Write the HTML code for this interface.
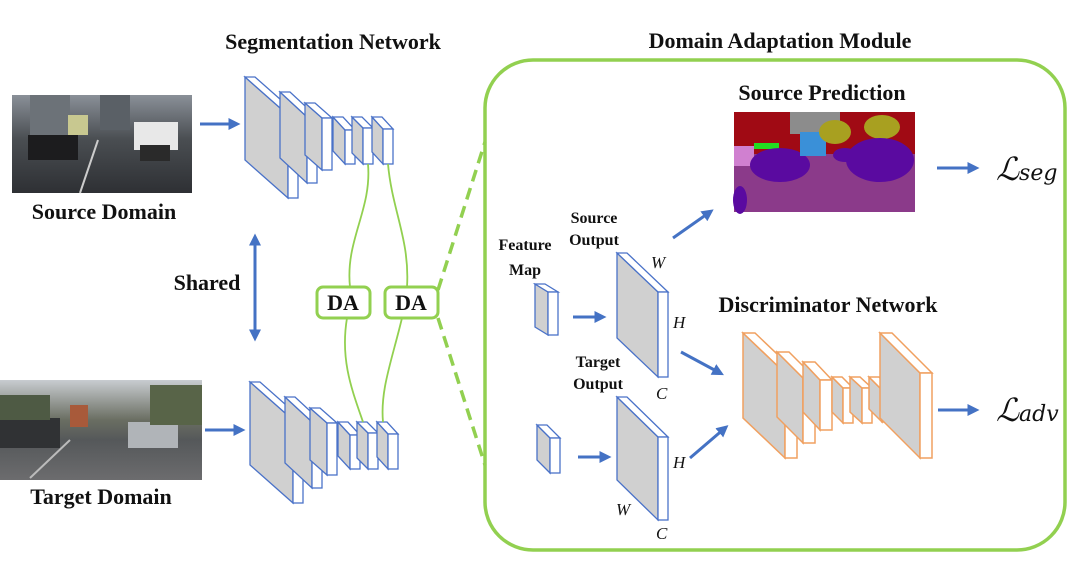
<!DOCTYPE html>
<html><head><meta charset="utf-8"><style>
html,body{margin:0;padding:0;background:#fff;}
svg{display:block;}
text{font-family:"Liberation Serif",serif;}
.b{font-weight:bold;font-size:22px;fill:#111;}
.s{font-weight:bold;font-size:16px;fill:#111;}
.i{font-style:italic;font-size:17px;fill:#111;}
.sb polygon{fill:#d0d0d0;stroke:#4a72c8;stroke-width:1.3;}
.sb rect,.sb polygon.t{fill:#fff;stroke:#4a72c8;stroke-width:1.3;}
.ob polygon{fill:#d0d0d0;stroke:#f0a060;stroke-width:1.5;}
.ob rect,.ob polygon.t{fill:#fff;stroke:#f0a060;stroke-width:1.5;}
.ar{stroke:#4472c4;stroke-width:3;fill:none;marker-end:url(#ah);}
</style></head><body>
<svg width="1080" height="585" viewBox="0 0 1080 585" xmlns="http://www.w3.org/2000/svg">
<defs>
<marker id="ah" markerWidth="4" markerHeight="4" refX="2.5" refY="2" orient="auto" markerUnits="strokeWidth"><path d="M0,0 L4,2 L0,4 z" fill="#4472c4"/></marker>
<marker id="ahs" markerWidth="4" markerHeight="4" refX="2.5" refY="2" orient="auto-start-reverse" markerUnits="strokeWidth"><path d="M0,0 L4,2 L0,4 z" fill="#4472c4"/></marker>
<linearGradient id="ph1" x1="0" y1="0" x2="0" y2="1"><stop offset="0" stop-color="#8a9098"/><stop offset="0.45" stop-color="#4a4e52"/><stop offset="1" stop-color="#2e3034"/></linearGradient>
<linearGradient id="ph2" x1="0" y1="0" x2="0" y2="1"><stop offset="0" stop-color="#c8ccd0"/><stop offset="0.4" stop-color="#6a6e62"/><stop offset="0.6" stop-color="#55585a"/><stop offset="1" stop-color="#6c6c6e"/></linearGradient>
<g id="segnet" class="sb">
<polygon points="245,77 288,115 288,198 245,160"/><polygon class="t" points="245,77 255,77 298,115 288,115"/><rect x="288" y="115" width="10" height="83"/>
<polygon points="280,92 307,117 307,183 280,158"/><polygon class="t" points="280,92 290,92 317,117 307,117"/><rect x="307" y="117" width="10" height="66"/>
<polygon points="305,103 322,118 322,170 305,155"/><polygon class="t" points="305,103 315,103 332,118 322,118"/><rect x="322" y="118" width="10" height="52"/>
<polygon points="333,117 345,130 345,164 333,151"/><polygon class="t" points="333,117 343,117 355,130 345,130"/><rect x="345" y="130" width="10" height="34"/>
<polygon points="352,117 363,128 363,164 352,153"/><polygon class="t" points="352,117 362,117 373,128 363,128"/><rect x="363" y="128" width="10" height="36"/>
<polygon points="372,117 383,129 383,164 372,152"/><polygon class="t" points="372,117 382,117 393,129 383,129"/><rect x="383" y="129" width="10" height="35"/>
</g>
</defs>

<text class="b" x="333" y="49" text-anchor="middle">Segmentation Network</text>
<text class="b" x="780" y="48" text-anchor="middle">Domain Adaptation Module</text>

<rect x="12" y="95" width="180" height="98" fill="url(#ph1)"/>
<rect x="30" y="95" width="40" height="40" fill="#6c7278"/>
<rect x="100" y="95" width="30" height="35" fill="#5a6066"/>
<rect x="28" y="135" width="50" height="25" fill="#1c1c1e"/>
<rect x="134" y="122" width="44" height="28" fill="#e8e8e8"/>
<rect x="140" y="145" width="30" height="16" fill="#2a2a2a"/>
<rect x="68" y="115" width="20" height="20" fill="#c8c890"/>
<line x1="80" y1="193" x2="98" y2="140" stroke="#ccc" stroke-width="2"/>
<rect x="0" y="380" width="202" height="100" fill="url(#ph2)"/>
<rect x="70" y="405" width="18" height="22" fill="#a85a3a"/>
<rect x="0" y="418" width="60" height="30" fill="#303234"/>
<rect x="128" y="422" width="50" height="26" fill="#b0b4b8"/>
<rect x="0" y="395" width="50" height="25" fill="#4e5a44"/>
<rect x="150" y="385" width="52" height="40" fill="#586448"/>
<line x1="30" y1="478" x2="70" y2="440" stroke="#bbb" stroke-width="2"/>

<text class="b" x="104" y="219" text-anchor="middle">Source Domain</text>
<text class="b" x="101" y="504" text-anchor="middle">Target Domain</text>
<text class="b" x="207" y="290" text-anchor="middle">Shared</text>

<line class="ar" x1="200" y1="124" x2="236" y2="124"/>
<line class="ar" x1="205" y1="430" x2="241" y2="430"/>
<line x1="255" y1="238" x2="255" y2="337" stroke="#4472c4" stroke-width="3" marker-end="url(#ah)" marker-start="url(#ahs)"/>

<use href="#segnet"/>
<use href="#segnet" transform="translate(5,305)"/>

<g stroke="#92d050" stroke-width="1.8" fill="none">
<path d="M368,164 C372,210 345,240 350,287"/>
<path d="M388,164 C392,210 410,240 407,287"/>
<path d="M347,318 C340,360 352,390 363,422"/>
<path d="M402,318 C392,360 380,390 383,422"/>
</g>
<g stroke="#92d050" stroke-width="3" fill="#fff">
<rect x="317" y="287" width="53" height="31" rx="6"/>
<rect x="385" y="287" width="53" height="31" rx="6"/>
</g>
<text class="b" x="343" y="310" text-anchor="middle">DA</text>
<text class="b" x="411" y="310" text-anchor="middle">DA</text>
<g stroke="#92d050" stroke-width="3.5" stroke-dasharray="12,7" fill="none">
<line x1="438" y1="290" x2="485" y2="142"/>
<line x1="438" y1="318" x2="485" y2="465"/>
</g>

<rect x="485" y="60" width="580" height="490" rx="48" fill="none" stroke="#92d050" stroke-width="3.5"/>

<text class="b" x="822" y="100" text-anchor="middle">Source Prediction</text>
<rect x="734" y="112" width="181" height="100" fill="#8b3a8a"/>
<rect x="734" y="112" width="181" height="42" fill="#a00a14"/>
<rect x="790" y="112" width="50" height="22" fill="#8c8c8c"/>
<rect x="734" y="146" width="20" height="20" fill="#d080d0"/>
<rect x="754" y="143" width="25" height="6" fill="#22dd22"/>
<ellipse cx="780" cy="165" rx="30" ry="17" fill="#5a0aa0"/>
<rect x="800" y="132" width="26" height="24" fill="#3a90d8"/>
<ellipse cx="835" cy="132" rx="16" ry="12" fill="#a8a020"/>
<ellipse cx="882" cy="127" rx="18" ry="12" fill="#a8a020"/>
<ellipse cx="880" cy="160" rx="34" ry="22" fill="#5a0aa0"/>
<ellipse cx="845" cy="155" rx="12" ry="7" fill="#5a0aa0"/>
<ellipse cx="740" cy="200" rx="7" ry="14" fill="#5a0aa0"/>
<line class="ar" x1="937" y1="168" x2="975" y2="168"/>
<text x="996" y="180" font-size="32" font-style="italic" fill="#111" style="font-family:'DejaVu Serif','Liberation Serif',serif">ℒ<tspan font-size="22">seg</tspan></text>

<text class="s" x="525" y="250" text-anchor="middle">Feature</text>
<text class="s" x="525" y="275" text-anchor="middle">Map</text>
<text class="s" x="594" y="223" text-anchor="middle">Source</text>
<text class="s" x="594" y="245" text-anchor="middle">Output</text>
<text class="s" x="598" y="367" text-anchor="middle">Target</text>
<text class="s" x="598" y="389" text-anchor="middle">Output</text>

<g class="sb">
<polygon points="535,284 548,292 548,335 535,327"/><polygon class="t" points="535,284 545,284 558,292 548,292"/><rect x="548" y="292" width="10" height="43"/>
<polygon points="537,425 550,438 550,473 537,460"/><polygon class="t" points="537,425 547,425 560,438 550,438"/><rect x="550" y="438" width="10" height="35"/>
<polygon points="617,253 658,292 658,377 617,338"/><polygon class="t" points="617,253 627,253 668,292 658,292"/><rect x="658" y="292" width="10" height="85"/>
<polygon points="617,397 658,437 658,520 617,480"/><polygon class="t" points="617,397 627,397 668,437 658,437"/><rect x="658" y="437" width="10" height="83"/>
</g>
<text class="i" x="651" y="268">W</text>
<text class="i" x="673" y="328">H</text>
<text class="i" x="656" y="399">C</text>
<text class="i" x="673" y="468">H</text>
<text class="i" x="616" y="515">W</text>
<text class="i" x="656" y="539">C</text>

<line class="ar" x1="573" y1="317" x2="602" y2="317"/>
<line class="ar" x1="578" y1="457" x2="607" y2="457"/>
<line class="ar" x1="673" y1="238" x2="710" y2="212"/>
<line class="ar" x1="681" y1="352" x2="720" y2="373"/>
<line class="ar" x1="690" y1="458" x2="725" y2="428"/>

<text class="b" x="828" y="312" text-anchor="middle">Discriminator Network</text>
<g class="ob">
<polygon points="743,333 785,373 785,458 743,418"/><polygon class="t" points="743,333 755,333 797,373 785,373"/><rect x="785" y="373" width="12" height="85"/>
<polygon points="777,352 803,378 803,443 777,417"/><polygon class="t" points="777,352 789,352 815,378 803,378"/><rect x="803" y="378" width="12" height="65"/>
<polygon points="803,362 820,380 820,430 803,412"/><polygon class="t" points="803,362 815,362 832,380 820,380"/><rect x="820" y="380" width="12" height="50"/>
<polygon points="832,377 843,388 843,423 832,412"/><polygon class="t" points="832,377 842,377 853,388 843,388"/><rect x="843" y="388" width="10" height="35"/>
<polygon points="850,377 862,388 862,423 850,412"/><polygon class="t" points="850,377 860,377 872,388 862,388"/><rect x="862" y="388" width="10" height="35"/>
<polygon points="869,377 882,390 882,422 869,409"/><polygon class="t" points="869,377 879,377 892,390 882,390"/><rect x="882" y="390" width="10" height="32"/>
<polygon points="880,333 920,373 920,458 880,418"/><polygon class="t" points="880,333 892,333 932,373 920,373"/><rect x="920" y="373" width="12" height="85"/>
</g>
<line class="ar" x1="938" y1="410" x2="975" y2="410"/>
<text x="996" y="421" font-size="32" font-style="italic" fill="#111" style="font-family:'DejaVu Serif','Liberation Serif',serif">ℒ<tspan font-size="22">adv</tspan></text>
</svg>
</body></html>
